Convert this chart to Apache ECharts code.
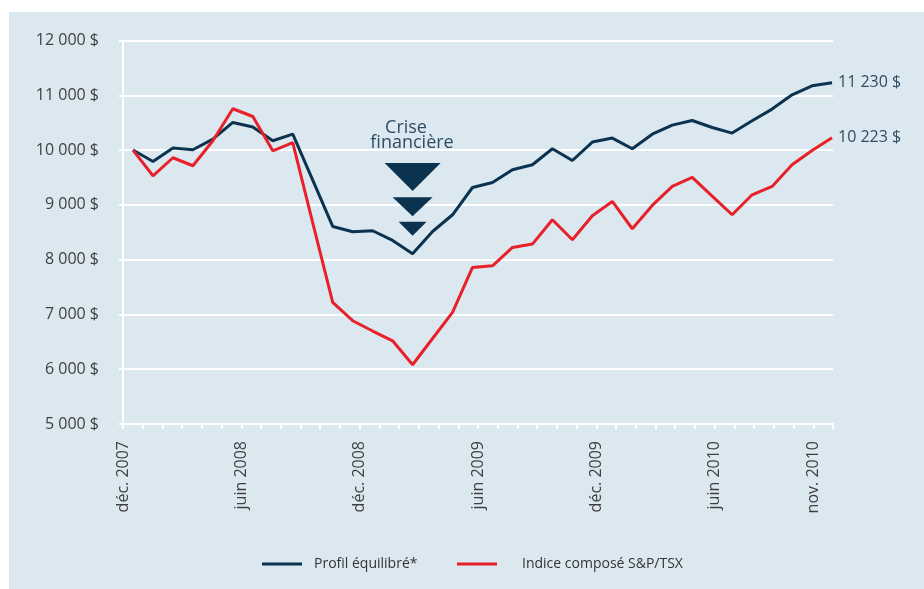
<!DOCTYPE html>
<html>
<head>
<meta charset="utf-8">
<script src="https://cdn.jsdelivr.net/npm/echarts@6/dist/echarts.min.js"></script>
<style>
html,body{margin:0;padding:0;background:#ffffff;}
#chart{width:924px;height:589px;}
</style>
</head>
<body>
<div id="chart"></div>
<script>
// Months (déc. 2007 – nov. 2010)
const months = ['déc. 2007','janv. 2008','févr. 2008','mars 2008','avr. 2008','mai 2008','juin 2008','juil. 2008','août 2008','sept. 2008','oct. 2008','nov. 2008',
  'déc. 2008','janv. 2009','févr. 2009','mars 2009','avr. 2009','mai 2009','juin 2009','juil. 2009','août 2009','sept. 2009','oct. 2009','nov. 2009',
  'déc. 2009','janv. 2010','févr. 2010','mars 2010','avr. 2010','mai 2010','juin 2010','juil. 2010','août 2010','sept. 2010','oct. 2010','nov. 2010'];
const tickLabels = ['déc. 2007','juin 2008','déc. 2008','juin 2009','déc. 2009','juin 2010','nov. 2010'];
const profilEquilibre = [10000,9792,10036,10005,10200,10504,10420,10170,10292,9450,8606,8509,
  8527,8350,8107,8514,8819,9317,9409,9640,9732,10024,9810,10146,
  10219,10024,10290,10456,10540,10412,10310,10535,10748,11009,11173,11230];
const indiceTSX = [10000,9531,9860,9714,10170,10754,10613,9987,10135,8670,7219,6885,
  6697,6519,6082,6560,7036,7858,7888,8222,8284,8728,8363,8801,
  9062,8564,8990,9336,9500,9160,8819,9184,9336,9732,9993,10223];
const seriesNames = ['Profil équilibré*','Indice composé S&P/TSX'];
const yTicks = [5000,6000,7000,8000,9000,10000,11000,12000];
const crisisMonth = 'févr. 2009';
const crisisMarkerLevels = [9510,8965,8565];
const crisisText = ['Crise','financière'];

// month boundaries for the displayed axis (start of each month + end)
const boundaries = months.concat(['déc. 2010']);

const NAVY = '#0b3350';
const RED = '#e8202a';
const SLATE = '#2f4c63';
const FONT = '"Open Sans", sans-serif';

function money(v){
  return String(v).replace(/\B(?=(\d{3})+(?!\d))/g,'\u00a0') + '\u00a0$';
}

const chart = echarts.init(document.getElementById('chart'), null, {renderer:'canvas'});
const markerSizes = [[56,28],[40,19],[28,14]];

chart.setOption({
  animation:false,
  backgroundColor:'#ffffff',
  graphic:[
    {type:'rect', z:-10, shape:{x:9,y:12,width:915,height:577}, style:{fill:'#dbe8f0'}},
    {type:'text', z:10, x:406, y:119, style:{text:crisisText[0], font:'18px '+FONT, fill:SLATE, align:'center', verticalAlign:'top'}},
    {type:'text', z:10, x:412, y:134, style:{text:crisisText[1], font:'18px '+FONT, fill:SLATE, align:'center', verticalAlign:'top'}}
  ],
  legend:[
    {data:[seriesNames[0]], left:262, top:557, padding:0, itemWidth:40, itemHeight:3, icon:'rect',
     textStyle:{fontFamily:FONT, fontSize:14, color:'#333', padding:[0,0,0,7]}},
    {data:[seriesNames[1]], left:457, top:557, padding:0, itemWidth:40, itemHeight:3, icon:'rect',
     textStyle:{fontFamily:FONT, fontSize:14, color:'#333', padding:[0,0,0,20]}}
  ],
  grid:[
    {left:123, top:40.5, width:710, height:383.5},
    {left:123, top:40.5, width:719, height:383.5}
  ],
  xAxis:[
    {type:'category', gridIndex:0, data:boundaries, boundaryGap:false,
     axisLine:{show:true, lineStyle:{color:'#ffffff', width:2}},
     axisTick:{show:true, interval:0, length:5, lineStyle:{color:'#ffffff', width:2}},
     axisLabel:{interval:function(i,v){return tickLabels.indexOf(v)>=0;}, rotate:90, margin:17,
       fontFamily:FONT, fontSize:16, color:'#3f3f3f'},
     splitLine:{show:false}},
    {type:'category', gridIndex:1, data:months, boundaryGap:true, show:false}
  ],
  yAxis:[
    {type:'value', gridIndex:0, min:yTicks[0], max:yTicks[yTicks.length-1], interval:1000,
     axisLine:{show:true, lineStyle:{color:'#ffffff', width:2}},
     axisTick:{show:true, length:4, lineStyle:{color:'#ffffff', width:2}},
     axisLabel:{margin:24, formatter:money, fontFamily:FONT, fontSize:16, color:'#3f3f3f'},
     splitLine:{show:true, lineStyle:{color:'#ffffff', width:2}}},
    {type:'value', gridIndex:1, min:yTicks[0], max:yTicks[yTicks.length-1], show:false, splitLine:{show:false}}
  ],
  series:[
    {name:seriesNames[0], type:'line', xAxisIndex:1, yAxisIndex:1, data:profilEquilibre,
     symbol:'none', color:NAVY, lineStyle:{width:3, color:NAVY},
     endLabel:{show:true, distance:6, formatter:function(p){return money(p.value);}, fontFamily:FONT, fontSize:16, color:SLATE},
     markPoint:{symbol:'triangle', symbolRotate:180, label:{show:false}, itemStyle:{color:NAVY}, silent:true,
       data:crisisMarkerLevels.map(function(v,i){return {coord:[crisisMonth, v], symbolSize:markerSizes[i]};})}},
    {name:seriesNames[1], type:'line', xAxisIndex:1, yAxisIndex:1, data:indiceTSX,
     symbol:'none', color:RED, lineStyle:{width:3, color:RED},
     endLabel:{show:true, distance:6, formatter:function(p){return money(p.value);}, fontFamily:FONT, fontSize:16, color:SLATE}}
  ]
});
</script>
</body>
</html>
